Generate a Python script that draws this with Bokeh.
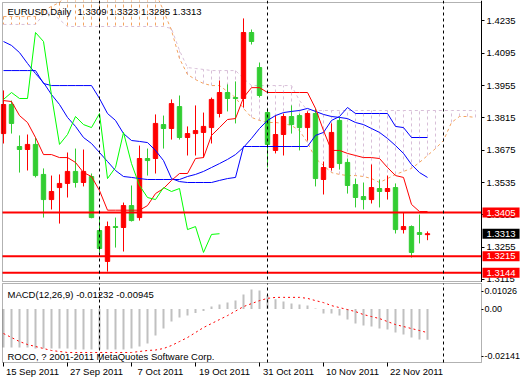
from bokeh.plotting import figure
from bokeh.layouts import column
from bokeh.models import (Span, Label, FixedTicker, Range1d, PrintfTickFormatter,
                          LinearAxis, BoxAnnotation)
from bokeh.embed import file_html
from bokeh.resources import INLINE

# ---------------- data ----------------
opens = [1.3747, 1.3873, 1.3691, 1.3678, 1.3700, 1.3570, 1.3461, 1.3513, 1.3531, 1.3583,
         1.3535, 1.3561, 1.3327, 1.3193, 1.3344, 1.3340, 1.3435, 1.3383, 1.3639, 1.3639,
         1.3786, 1.3769, 1.3864, 1.3730, 1.3747, 1.3752, 1.3773, 1.3834, 1.3925, 1.3903,
         1.3899, 1.4185, 1.4033, 1.3838, 1.3674, 1.3743, 1.3821, 1.3825, 1.3773, 1.3834,
         1.3548, 1.3600, 1.3804, 1.3622, 1.3526, 1.3474, 1.3461, 1.3509, 1.3496, 1.3513,
         1.3331, 1.3344, 1.3318, 1.3309]
highs = [1.3934, 1.3890, 1.3739, 1.3743, 1.3730, 1.3596, 1.3565, 1.3570, 1.3665, 1.3682,
         1.3678, 1.3574, 1.3379, 1.3366, 1.3383, 1.3448, 1.3522, 1.3695, 1.3682, 1.3830,
         1.3825, 1.3895, 1.3912, 1.3778, 1.3869, 1.3838, 1.3903, 1.3977, 1.3960, 1.3973,
         1.4246, 1.4198, 1.4055, 1.3856, 1.3825, 1.3834, 1.3869, 1.3834, 1.3843, 1.3856,
         1.3626, 1.3791, 1.3817, 1.3639, 1.3552, 1.3535, 1.3613, 1.3548, 1.3565, 1.3531,
         1.3405, 1.3349, 1.3396, 1.3323]
lows = [1.3704, 1.3747, 1.3578, 1.3587, 1.3557, 1.3383, 1.3418, 1.3357, 1.3470, 1.3513,
        1.3518, 1.3380, 1.3232, 1.3149, 1.3253, 1.3236, 1.3366, 1.3370, 1.3565, 1.3574,
        1.3682, 1.3721, 1.3721, 1.3652, 1.3652, 1.3643, 1.3704, 1.3817, 1.3843, 1.3791,
        1.3860, 1.4133, 1.3903, 1.3600, 1.3661, 1.3652, 1.3747, 1.3674, 1.3717, 1.3518,
        1.3483, 1.3587, 1.3591, 1.3487, 1.3427, 1.3418, 1.3444, 1.3427, 1.3461, 1.3314,
        1.3314, 1.3210, 1.3271, 1.3285]
closes = [1.3873, 1.3791, 1.3678, 1.3700, 1.3565, 1.3461, 1.3496, 1.3531, 1.3583, 1.3535,
          1.3583, 1.3383, 1.3249, 1.3344, 1.3340, 1.3435, 1.3370, 1.3639, 1.3630, 1.3791,
          1.3769, 1.3877, 1.3730, 1.3747, 1.3760, 1.3778, 1.3895, 1.3925, 1.3899, 1.3899,
          1.4185, 1.4146, 1.3912, 1.3700, 1.3743, 1.3821, 1.3786, 1.3773, 1.3834, 1.3552,
          1.3600, 1.3752, 1.3617, 1.3522, 1.3470, 1.3461, 1.3513, 1.3496, 1.3509, 1.3331,
          1.3344, 1.3232, 1.3310, 1.3313]

tenkan = [1.3890, 1.3886, 1.3825, 1.3795, 1.3730, 1.3656, 1.3656, 1.3643, 1.3643, 1.3622,
          1.3578, 1.3561, 1.3500, 1.3415, 1.3415, 1.3415, 1.3415, 1.3415, 1.3435, 1.3487,
          1.3509, 1.3544, 1.3574, 1.3574, 1.3639, 1.3643, 1.3739, 1.3773, 1.3808, 1.3812,
          1.3903, 1.3946, 1.3946, 1.3925, 1.3925, 1.3925, 1.3925, 1.3925, 1.3925, 1.3856,
          1.3760, 1.3674, 1.3674, 1.3661, 1.3652, 1.3643, 1.3643, 1.3639, 1.3600, 1.3565,
          1.3557, 1.3440, 1.3409, 1.3409]
kijun = [1.4020, 1.4020, 1.4020, 1.4020, 1.4020, 1.3964, 1.3955, 1.3955, 1.3955, 1.3955,
         1.3955, 1.3955, 1.3899, 1.3834, 1.3804, 1.3747, 1.3717, 1.3713, 1.3708, 1.3674,
         1.3630, 1.3552, 1.3539, 1.3535, 1.3535, 1.3535, 1.3535, 1.3544, 1.3552, 1.3557,
         1.3691, 1.3691, 1.3691, 1.3691, 1.3691, 1.3691, 1.3691, 1.3691, 1.3691, 1.3739,
         1.3752, 1.3804, 1.3821, 1.3860, 1.3834, 1.3834, 1.3834, 1.3834, 1.3834, 1.3778,
         1.3773, 1.3730, 1.3730, 1.3730]
moving_avg = [1.4146, 1.4129, 1.4098, 1.4051, 1.4007, 1.3968, 1.3916, 1.3873, 1.3817, 1.3778,
              1.3730, 1.3704, 1.3665, 1.3626, 1.3587, 1.3561, 1.3557, 1.3552, 1.3548, 1.3548,
              1.3548, 1.3548, 1.3548, 1.3561, 1.3570, 1.3583, 1.3600, 1.3617, 1.3635, 1.3656,
              1.3687, 1.3726, 1.3769, 1.3804, 1.3825, 1.3838, 1.3843, 1.3847, 1.3856, 1.3843,
              1.3830, 1.3821, 1.3817, 1.3812, 1.3795, 1.3786, 1.3769, 1.3752, 1.3726, 1.3695,
              1.3661, 1.3613, 1.3578, 1.3557]
chikou = [1.3895, 1.3925, 1.3899, 1.3899, 1.4185, 1.4146, 1.3912, 1.3700, 1.3743, 1.3821,
          1.3786, 1.3773, 1.3834, 1.3552, 1.3600, 1.3752, 1.3617, 1.3522, 1.3470, 1.3461,
          1.3513, 1.3496, 1.3509, 1.3331, 1.3344, 1.3232, 1.3310, 1.3313]
span_a = [1.4254, 1.4254, 1.4254, 1.4254, 1.4254, 1.4280, 1.4298, 1.4315, 1.4358, 1.4358,
          1.4358, 1.4358, 1.4358, 1.4358, 1.4358, 1.4358, 1.4358, 1.4358, 1.4358, 1.4358,
          1.4280, 1.4194, 1.4072, 1.4003, 1.3981, 1.3964, 1.3955, 1.3955, 1.3929, 1.3903,
          1.3856, 1.3817, 1.3804, 1.3795, 1.3795, 1.3791, 1.3782, 1.3760, 1.3708, 1.3639,
          1.3609, 1.3578, 1.3570, 1.3565, 1.3565, 1.3561, 1.3552, 1.3535, 1.3552, 1.3570,
          1.3583, 1.3596, 1.3622, 1.3652, 1.3682, 1.3717, 1.3795, 1.3821, 1.3821, 1.3817]
span_b = [1.4220, 1.4220, 1.4220, 1.4220, 1.4220, 1.4263, 1.4272, 1.4241, 1.4211, 1.4211,
          1.4211, 1.4211, 1.4211, 1.4211, 1.4211, 1.4211, 1.4211, 1.4211, 1.4211, 1.4211,
          1.4211, 1.4202, 1.4107, 1.4033, 1.4029, 1.4025, 1.4020, 1.4020, 1.4020, 1.4020,
          1.3986, 1.3955, 1.3955, 1.3955, 1.3955, 1.3955, 1.3955, 1.3890, 1.3847, 1.3847,
          1.3847, 1.3847, 1.3847, 1.3847, 1.3847, 1.3847, 1.3847, 1.3847, 1.3847, 1.3847,
          1.3847, 1.3847, 1.3847, 1.3847, 1.3847, 1.3847, 1.3847, 1.3847, 1.3847, 1.3847]

macd_main = [-0.0154, -0.0154, -0.0154, -0.0154, -0.0158, -0.0158, -0.0158, -0.0158, -0.0158, -0.0162,
             -0.0162, -0.0162, -0.0162, -0.0162, -0.0162, -0.0162, -0.0158, -0.0150, -0.0138, -0.0106,
             -0.0078, -0.0050, -0.0034, -0.0026, -0.0016, -0.0008, 0.0010, 0.0018, 0.0026, 0.0034,
             0.0059, 0.0079, 0.0075, 0.0055, 0.0039, 0.0030, 0.0022, 0.0018, 0.0014, 0.0002,
             -0.0018, -0.0018, -0.0026, -0.0042, -0.0058, -0.0066, -0.0070, -0.0078, -0.0082, -0.0094,
             -0.0102, -0.0114, -0.0122, -0.01232]
macd_signal = [-0.0098, -0.0114, -0.0130, -0.0142, -0.0150, -0.0158, -0.0166, -0.0170, -0.0174, -0.0174,
               -0.0174, -0.0174, -0.0174, -0.0174, -0.0174, -0.0174, -0.0174, -0.0170, -0.0166, -0.0164,
               -0.0158, -0.0146, -0.0130, -0.0114, -0.0094, -0.0074, -0.0058, -0.0042, -0.0026, -0.0008,
               0.0010, 0.0022, 0.0034, 0.0043, 0.0047, 0.0047, 0.0047, 0.0047, 0.0043, 0.0034,
               0.0026, 0.0014, 0.0006, -0.0002, -0.0010, -0.0022, -0.0030, -0.0038, -0.0050, -0.0062,
               -0.0070, -0.0078, -0.0086, -0.00945]

separator_bars = [12, 33, 55]
level_prices = [1.3405, 1.3215, 1.3144]
level_labels = ["1.3405", "1.3215", "1.3144"]
bid_price = 1.3313
bid_label = "1.3313"
date_tick_bars = [0, 8, 16, 24, 32, 40, 48]
date_tick_labels = ["15 Sep 2011", "27 Sep 2011", "7 Oct 2011", "19 Oct 2011",
                    "31 Oct 2011", "10 Nov 2011", "22 Nov 2011"]
price_ticks = [1.3115, 1.3255, 1.3395, 1.3535, 1.3675, 1.3815, 1.3955, 1.4095, 1.4235]
macd_ticks = [0.0071, 0.0, -0.0190]
macd_tick_labels = ["0.01026", "0.00", "-0.02141"]
price_lo, price_hi = 1.3106, 1.4315
macd_lo, macd_hi = -0.02141, 0.01026
header_symbol = "EURUSD,Daily"
header_prices = "1.3309 1.3323 1.3285 1.3313"
macd_title = "MACD(12,26,9) -0.01232 -0.00945"
copyright_text = "ROCO, ? 2001-2011 MetaQuotes Software Corp."

# ---------------- layout constants ----------------
FONT = "Liberation Sans"
FS = "9.5px"
FS_MACD_AXIS = "9px"
BULL = "#FF0000"
BEAR = "#32CD32"
W = 520
PPB = 8.0                      # pixels per bar
X0, X1 = -0.125, 59.75         # chart border (left, right) in bar units
XL = X0 - 2.0 / PPB            # frame starts 2px left of the border
XR = XL + W / PPB              # frame runs to the page edge (price-label strip)
LABEL_SHIFT = 29.0 / PPB       # date labels start just right of their tick

MAIN_H, MAIN_TOP, MAIN_BOX = 282, 2, 279
MACD_H, MACD_TOP, MACD_BOX = 98, 1, 79
MAIN_BOTTOM = MAIN_H - MAIN_TOP - MAIN_BOX
MACD_STRIP = MACD_H - MACD_TOP - MACD_BOX   # strip under the MACD box for dates

pe = (price_hi - price_lo) / MAIN_BOX
me = (macd_hi - macd_lo) / MACD_BOX

n = len(opens)
idx = list(range(n))
cloud_idx = list(range(len(span_a)))

x_range = Range1d(XL, XR)


def style_text(obj, size=FS):
    obj.major_label_text_font = FONT
    obj.major_label_text_font_size = size
    obj.major_label_text_color = "black"


# ---------------- price panel ----------------
p = figure(width=W, height=MAIN_H, x_range=x_range,
           y_range=Range1d(price_lo - MAIN_BOTTOM * pe, price_hi + MAIN_TOP * pe),
           output_backend="svg", toolbar_location=None, x_axis_location=None,
           y_axis_location=None, min_border_left=0, min_border_right=0,
           min_border_top=0, min_border_bottom=0)
p.grid.visible = False
p.outline_line_color = None
p.background_fill_color = "white"
p.border_fill_color = "white"

ya = LinearAxis(fixed_location=X1, ticker=FixedTicker(ticks=price_ticks),
                formatter=PrintfTickFormatter(format="%.4f"))
ya.major_tick_out = 3
ya.major_tick_in = 0
ya.minor_tick_line_color = None
ya.axis_line_color = "black"
ya.major_label_standoff = 2
style_text(ya)
p.add_layout(ya, "right")

p.add_layout(BoxAnnotation(left=X0, right=X1, bottom=price_lo, top=price_hi,
                           fill_alpha=0, line_color="black", line_width=1))

# Ichimoku cloud
hatch_col = ["#F4A460" if a > b else "#D8BFD8" for a, b in zip(span_a, span_b)]
p.segment(x0=cloud_idx, y0=span_a, x1=cloud_idx, y1=span_b, line_color=hatch_col,
          line_width=1, line_dash="3 3")
p.line(cloud_idx, span_a, line_color="#F4A460", line_width=1, line_dash="3 3")
p.line(cloud_idx, span_b, line_color="#D8BFD8", line_width=1, line_dash="3 3")

for bar in separator_bars:
    p.add_layout(Span(location=bar, dimension="height", line_color="black",
                      line_dash="3 3", line_width=1))

# candles
colors = [BULL if c >= o else BEAR for o, c in zip(opens, closes)]
p.segment(x0=idx, y0=lows, x1=idx, y1=highs, line_color=colors, line_width=1)
p.vbar(x=idx, width=0.55, top=[max(o, c) for o, c in zip(opens, closes)],
       bottom=[min(o, c) for o, c in zip(opens, closes)], fill_color=colors,
       line_color=colors, line_width=1)

# indicator lines
p.line(idx, moving_avg, line_color="#0000FF", line_width=1)
p.line(idx, kijun, line_color="#0000FF", line_width=1)
p.line(idx, tenkan, line_color="#FF0000", line_width=1)
p.line(list(range(len(chikou))), chikou, line_color="#00FF00", line_width=1)

# horizontal levels
p.segment(x0=[X0] * len(level_prices), y0=level_prices, x1=[X1] * len(level_prices),
          y1=level_prices, line_color="#FF0000", line_width=2)

for lv, txt in zip(level_prices, level_labels):
    p.add_layout(Label(x=X1, y=lv, x_offset=1, text=txt, text_align="left",
                       text_baseline="middle", text_font=FONT, text_font_size=FS,
                       text_color="white", background_fill_color="#FF0000",
                       padding=(4, 2)))
p.add_layout(Label(x=X1, y=bid_price, x_offset=1, text=bid_label, text_align="left",
                   text_baseline="middle", text_font=FONT, text_font_size=FS,
                   text_color="white", background_fill_color="black", padding=(4, 2)))

p.add_layout(Label(x=X0, y=price_hi, x_offset=5, y_offset=-3, text=header_symbol,
                   text_align="left", text_baseline="top", text_font=FONT,
                   text_font_size=FS, text_color="black"))
p.add_layout(Label(x=X0, y=price_hi, x_offset=75, y_offset=-3, text=header_prices,
                   text_align="left", text_baseline="top", text_font=FONT,
                   text_font_size=FS, text_color="black"))

# ---------------- MACD panel ----------------
m = figure(width=W, height=MACD_H, x_range=x_range,
           y_range=Range1d(macd_lo - MACD_STRIP * me, macd_hi + MACD_TOP * me),
           output_backend="svg", toolbar_location=None, x_axis_location=None,
           y_axis_location=None, min_border_left=0, min_border_right=0,
           min_border_top=0, min_border_bottom=0)
m.grid.visible = False
m.outline_line_color = None
m.background_fill_color = "white"
m.border_fill_color = "white"
m.extra_x_ranges = {"dates": Range1d(XL - LABEL_SHIFT, XR - LABEL_SHIFT)}

my = LinearAxis(fixed_location=X1, ticker=FixedTicker(ticks=macd_ticks))
my.major_label_overrides = {t: s for t, s in zip(macd_ticks, macd_tick_labels)}
my.major_tick_out = 2
my.major_tick_in = 0
my.minor_tick_line_color = None
my.axis_line_color = None
my.major_label_standoff = 1
style_text(my, FS_MACD_AXIS)
m.add_layout(my, "right")

tick_axis = LinearAxis(fixed_location=macd_lo, ticker=FixedTicker(ticks=date_tick_bars))
tick_axis.major_tick_out = 4
tick_axis.major_tick_in = 0
tick_axis.minor_tick_line_color = None
tick_axis.axis_line_color = None
tick_axis.major_label_text_color = None
m.add_layout(tick_axis, "below")

date_axis = LinearAxis(x_range_name="dates", fixed_location=macd_lo,
                       ticker=FixedTicker(ticks=date_tick_bars))
date_axis.major_label_overrides = {b: s for b, s in zip(date_tick_bars, date_tick_labels)}
date_axis.major_tick_line_color = None
date_axis.major_tick_out = 0
date_axis.major_tick_in = 0
date_axis.minor_tick_line_color = None
date_axis.minor_tick_out = 0
date_axis.axis_line_color = None
date_axis.major_label_standoff = 3
style_text(date_axis)
m.add_layout(date_axis, "below")

m.add_layout(BoxAnnotation(left=X0, right=X1, bottom=macd_lo, top=macd_hi,
                           fill_alpha=0, line_color="black", line_width=1))

m.segment(x0=idx, y0=[0] * n, x1=idx, y1=macd_main, line_color="#C0C0C0", line_width=2)
m.line(idx, macd_signal, line_color="#FF0000", line_width=1, line_dash="2 3")

m.segment(x0=separator_bars, y0=[macd_lo] * len(separator_bars),
          x1=separator_bars, y1=[macd_hi] * len(separator_bars),
          line_color="black", line_dash="3 3", line_width=1)

m.add_layout(Label(x=X0, y=macd_hi, x_offset=5, y_offset=-5, text=macd_title,
                   text_align="left", text_baseline="top", text_font=FONT,
                   text_font_size=FS, text_color="black"))
m.add_layout(Label(x=X0, y=macd_lo, x_offset=5, y_offset=1, text=copyright_text,
                   text_align="left", text_baseline="bottom", text_font=FONT,
                   text_font_size=FS, text_color="black"))

layout = column(p, m, spacing=0)
open("out.html", "w").write(file_html(layout, INLINE))
